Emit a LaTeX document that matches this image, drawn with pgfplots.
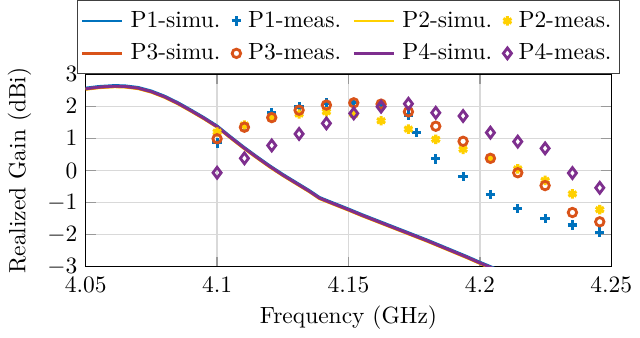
\documentclass[border=0pt]{standalone}
\usepackage{pgfplots}
\pgfplotsset{compat=1.18}
\definecolor{cP1}{rgb}{0,0.447,0.741}
\definecolor{cP2}{RGB}{255,208,0}
\definecolor{cP3}{rgb}{0.85,0.325,0.098}
\definecolor{cP4}{rgb}{0.494,0.184,0.556}
\pgfplotsset{markleg/.style={legend image code/.code={\draw[##1] plot coordinates {(0cm,0cm)};}}}

\pgfplotstableread{
f g
4.050 2.57
4.055 2.62
4.061 2.65
4.065 2.64
4.070 2.59
4.075 2.48
4.080 2.32
4.085 2.12
4.090 1.89
4.095 1.65
4.100 1.39
4.105 1.06
4.110 0.74
4.115 0.44
4.120 0.15
4.125 -0.12
4.130 -0.37
4.135 -0.62
4.139 -0.84
4.142 -0.94
4.146 -1.07
4.150 -1.20
4.155 -1.37
4.160 -1.53
4.165 -1.69
4.170 -1.85
4.175 -2.01
4.180 -2.17
4.185 -2.34
4.190 -2.51
4.195 -2.68
4.200 -2.86
4.205 -3.03
4.210 -3.20
}\simA
\pgfplotstableread{
f g
4.050 2.53
4.055 2.58
4.061 2.61
4.065 2.60
4.070 2.55
4.075 2.44
4.080 2.28
4.085 2.08
4.090 1.85
4.095 1.61
4.100 1.35
4.105 1.02
4.110 0.70
4.115 0.40
4.120 0.11
4.125 -0.16
4.130 -0.41
4.135 -0.66
4.139 -0.88
4.142 -0.98
4.146 -1.11
4.150 -1.24
4.155 -1.41
4.160 -1.57
4.165 -1.73
4.170 -1.89
4.175 -2.05
4.180 -2.21
4.185 -2.38
4.190 -2.55
4.195 -2.72
4.200 -2.90
4.205 -3.07
4.210 -3.24
}\simB
\pgfplotstableread{
f g
4.050 2.54
4.055 2.59
4.061 2.62
4.065 2.61
4.070 2.56
4.075 2.45
4.080 2.29
4.085 2.09
4.090 1.86
4.095 1.62
4.100 1.36
4.105 1.03
4.110 0.71
4.115 0.41
4.120 0.12
4.125 -0.15
4.130 -0.40
4.135 -0.65
4.139 -0.87
4.142 -0.97
4.146 -1.10
4.150 -1.23
4.155 -1.40
4.160 -1.56
4.165 -1.72
4.170 -1.88
4.175 -2.04
4.180 -2.20
4.185 -2.37
4.190 -2.54
4.195 -2.71
4.200 -2.89
4.205 -3.06
4.210 -3.23
}\simC
\pgfplotstableread{
f g
4.050 2.55
4.055 2.60
4.061 2.63
4.065 2.62
4.070 2.57
4.075 2.46
4.080 2.30
4.085 2.10
4.090 1.87
4.095 1.63
4.100 1.37
4.105 1.04
4.110 0.72
4.115 0.42
4.120 0.13
4.125 -0.14
4.130 -0.39
4.135 -0.64
4.139 -0.86
4.142 -0.96
4.146 -1.09
4.150 -1.22
4.155 -1.39
4.160 -1.55
4.165 -1.71
4.170 -1.87
4.175 -2.03
4.180 -2.19
4.185 -2.36
4.190 -2.53
4.195 -2.70
4.200 -2.88
4.205 -3.05
4.210 -3.22
}\simD

\pgfplotstableread{
f g
4.1000 0.86
4.1104 1.36
4.1208 1.80
4.1312 1.98
4.1416 2.10
4.1520 2.12
4.1624 2.07
4.1728 1.73
4.1759 1.19
4.1832 0.36
4.1936 -0.19
4.2040 -0.75
4.2144 -1.19
4.2248 -1.50
4.2352 -1.70
4.2456 -1.92
}\measA
\pgfplotstableread{
f g
4.1000 1.20
4.1104 1.42
4.1208 1.65
4.1312 1.76
4.1416 1.83
4.1520 1.75
4.1624 1.55
4.1728 1.29
4.1832 0.97
4.1936 0.66
4.2040 0.38
4.2144 0.05
4.2248 -0.31
4.2352 -0.73
4.2456 -1.22
}\measB
\pgfplotstableread{
f g
4.1000 0.99
4.1104 1.35
4.1208 1.65
4.1312 1.88
4.1416 2.04
4.1520 2.11
4.1624 2.07
4.1728 1.83
4.1832 1.38
4.1936 0.91
4.2040 0.38
4.2144 -0.07
4.2248 -0.47
4.2352 -1.31
4.2456 -1.60
}\measC
\pgfplotstableread{
f g
4.1000 -0.07
4.1104 0.38
4.1208 0.78
4.1312 1.14
4.1416 1.47
4.1520 1.78
4.1624 1.99
4.1728 2.08
4.1832 1.80
4.1936 1.70
4.2040 1.18
4.2144 0.90
4.2248 0.69
4.2352 -0.08
4.2456 -0.54
}\measD

\begin{document}
\begin{tikzpicture}
\begin{axis}[
  scale only axis,
  width=224pt, height=82pt,
  xmin=4.05, xmax=4.25, ymin=-3, ymax=3,
  xtick={4.05,4.1,4.15,4.2,4.25},
  ytick={-3,-2,-1,0,1,2,3},
  grid=major,
  grid style={black!15, line width=0.6pt},
  tick style={black!40, line width=0.6pt},
  axis line style={black, line width=0.6pt},
  xticklabel style={yshift=-1pt},
  xlabel={Frequency (GHz)},
  ylabel={Realized Gain (dBi)},
  xlabel style={yshift=1pt},
  legend columns=4,
  legend cell align=left,
  legend style={at={(0.5,1)}, anchor=south, yshift=0pt, draw=black!75, line width=0.5pt,
    inner xsep=1.5pt, inner ysep=2.5pt,
    /tikz/every even column/.append style={column sep=2.8pt},
    /tikz/every odd column/.append style={column sep=1pt},
    row sep=1.5pt},
]
\addplot[cP1, line width=1.2pt] table {\simA};
\addlegendentry{P1-simu.}
\addplot[cP1, only marks, mark=+, mark size=2pt, line width=1.3pt, markleg] table {\measA};
\addlegendentry{P1-meas.}
\addplot[cP2, line width=1.2pt] table {\simB};
\addlegendentry{P2-simu.}
\addplot[cP2, only marks, mark=asterisk, mark size=2pt, line width=1.3pt, markleg] table {\measB};
\addlegendentry{P2-meas.}
\addplot[cP3, line width=1.2pt] table {\simC};
\addlegendentry{P3-simu.}
\addplot[cP3, only marks, mark=o, mark size=1.8pt, line width=1.2pt, markleg] table {\measC};
\addlegendentry{P3-meas.}
\addplot[cP4, line width=1.2pt] table {\simD};
\addlegendentry{P4-simu.}
\addplot[cP4, only marks, mark=diamond, mark size=2.3pt, line width=1.2pt, markleg] table {\measD};
\addlegendentry{P4-meas.}
\end{axis}
\end{tikzpicture}
\end{document}
